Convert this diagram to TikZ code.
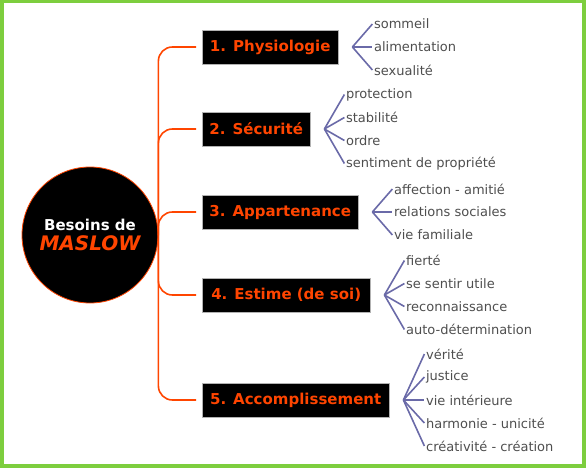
\documentclass[tikz,border=0pt]{standalone}
\usepackage{fontspec}
\setmainfont{DejaVu Sans}
\usepackage{xcolor}
\usepackage{tikz}
\usetikzlibrary{positioning}
\definecolor{maslowred}{HTML}{FF4500}
\definecolor{framegreen}{HTML}{7DCE3E}
\definecolor{leafblue}{HTML}{6A6AA8}
\definecolor{leafgray}{HTML}{4E4E4E}

\begin{document}
\begin{tikzpicture}[x=1pt,y=-1pt,
    need/.style={rectangle,draw=gray!60,fill=black,text=maslowred,font=\fontsize{15}{17}\selectfont\bfseries,minimum height=34pt,inner xsep=7pt,anchor=west},
    branch/.style={draw=maslowred,line width=1.6pt,rounded corners=14pt,shorten >=6pt},
    leaf/.style={draw=leafblue,line width=1.6pt},
    item/.style={text=leafgray,font=\fontsize{13}{15}\selectfont,anchor=west,inner sep=1.5pt}]
    \useasboundingbox (0,0) rectangle (586,468);
    \draw[framegreen,line width=3.5pt] (1.75,1.75) rectangle (584,466);
    % centre
    \node[circle,fill=black,draw=maslowred,line width=0.8pt,minimum size=136pt,inner sep=0pt,align=center,text=white,font=\fontsize{15}{17}\selectfont\bfseries] (maslow) at (90,235) {Besoins de\\[3pt]{\fontsize{20}{22}\selectfont\itshape\color{maslowred}MASLOW}};
    % besoins
    \node[need,minimum width=136pt] (phys) at (202,47) {1. Physiologie};
    \node[need,minimum width=108pt] (secu) at (202,129) {2. Sécurité};
    \node[need,minimum width=156pt] (appart) at (202,212) {3. Appartenance};
    \node[need,minimum width=168pt] (estime) at (202,295) {4. Estime (de soi)};
    \node[need,minimum width=187pt] (accomp) at (202,400) {5. Accomplissement};
    \draw[branch] (maslow.east) |- (phys.west);
    \draw[branch] (maslow.east) |- (secu.west);
    \draw[branch] (maslow.east) |- (appart.west);
    \draw[branch] (maslow.east) |- (estime.west);
    \draw[branch] (maslow.east) |- (accomp.west);
    % eventails
    \coordinate[right=14pt of phys] (f1);
    \coordinate[right=14pt of secu] (f2);
    \coordinate[right=14pt of appart] (f3);
    \coordinate[right=14pt of estime] (f4);
    \coordinate[right=14pt of accomp] (f5);
    \foreach \t [count=\i] in {sommeil,alimentation,sexualité}{
        \node[item] (phys-\i) at ([shift={(20,{(\i-2)*23})}]f1) {\t};
        \draw[leaf] (f1) -- (phys-\i.west);}
    \foreach \t [count=\i] in {protection,stabilité,ordre,sentiment de propriété}{
        \node[item] (secu-\i) at ([shift={(20,{(\i-2.5)*23})}]f2) {\t};
        \draw[leaf] (f2) -- (secu-\i.west);}
    \foreach \t [count=\i] in {affection - amitié,relations sociales,vie familiale}{
        \node[item] (appart-\i) at ([shift={(20,{(\i-2)*23})}]f3) {\t};
        \draw[leaf] (f3) -- (appart-\i.west);}
    \foreach \t [count=\i] in {fierté,se sentir utile,reconnaissance,auto-détermination}{
        \node[item] (estime-\i) at ([shift={(20,{(\i-2.5)*23})}]f4) {\t};
        \draw[leaf] (f4) -- (estime-\i.west);}
    \foreach \t [count=\i] in {vérité,justice,vie intérieure,harmonie - unicité,créativité - création}{
        \node[item] (accomp-\i) at ([shift={(21,{(\i-3)*23})}]f5) {\t};
        \draw[leaf] (f5) -- (accomp-\i.west);}
\end{tikzpicture}
\end{document}
